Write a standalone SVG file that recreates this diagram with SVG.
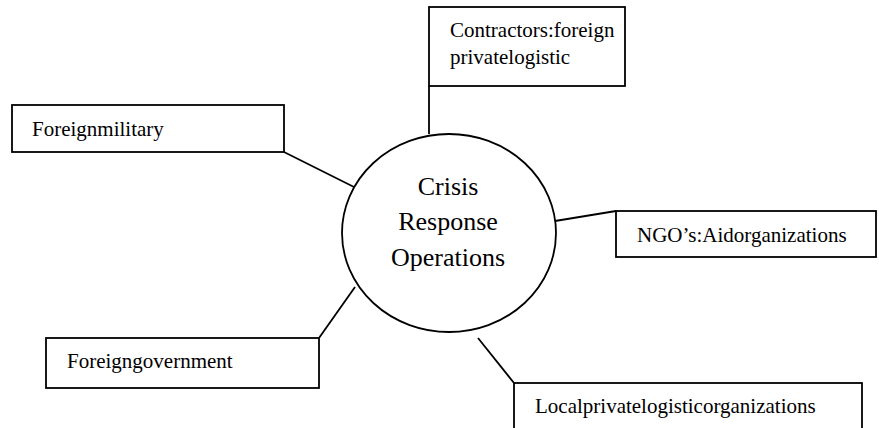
<svg xmlns="http://www.w3.org/2000/svg" width="879" height="428" viewBox="0 0 879 428">
  <style>
    .box { fill: #ffffff; stroke: #000000; stroke-width: 1.8; }
    .hub { fill: #ffffff; stroke: #000000; stroke-width: 1.8; }
    .link { stroke: #000000; stroke-width: 1.8; fill: none; }
    .lbl { font-family: "Liberation Serif", "Times New Roman", serif; font-size: 21px; fill: #000000; }
    .hubtxt { font-family: "Liberation Serif", "Times New Roman", serif; font-size: 26px; fill: #000000; text-anchor: middle; }
  </style>
  <rect width="879" height="428" fill="#ffffff"/>

  <!-- connectors between the hub and each actor -->
  <g id="connectors">
    <line class="link" x1="429" y1="86" x2="429" y2="134"/>
    <line class="link" x1="284" y1="152" x2="354" y2="187"/>
    <line class="link" x1="555" y1="221" x2="616" y2="211"/>
    <line class="link" x1="319" y1="338" x2="355" y2="287"/>
    <line class="link" x1="478" y1="338" x2="514" y2="383"/>
  </g>

  <g id="hub">
    <ellipse class="hub" cx="449" cy="233" rx="107" ry="99"/>
    <text class="hubtxt" x="448" y="195">Crisis</text>
    <text class="hubtxt" x="448" y="230">Response</text>
    <text class="hubtxt" x="448" y="266">Operations</text>
  </g>

  <g id="contractors">
    <rect class="box" x="429" y="7" width="196" height="79"/>
    <text class="lbl" x="450" y="37">Contractors:foreign</text>
    <text class="lbl" x="450" y="64">privatelogistic</text>
  </g>

  <g id="foreign-military">
    <rect class="box" x="12" y="105" width="272" height="47"/>
    <text class="lbl" x="32" y="136">Foreignmilitary</text>
  </g>

  <g id="ngos">
    <rect class="box" x="616" y="211" width="260" height="46"/>
    <text class="lbl" x="637" y="242">NGO’s:Aidorganizations</text>
  </g>

  <g id="foreign-government">
    <rect class="box" x="46" y="338" width="273" height="50"/>
    <text class="lbl" x="67" y="368">Foreigngovernment</text>
  </g>

  <g id="local-logistics">
    <rect class="box" x="514" y="383" width="348" height="60"/>
    <text class="lbl" x="535" y="413">Localprivatelogisticorganizations</text>
  </g>
</svg>
